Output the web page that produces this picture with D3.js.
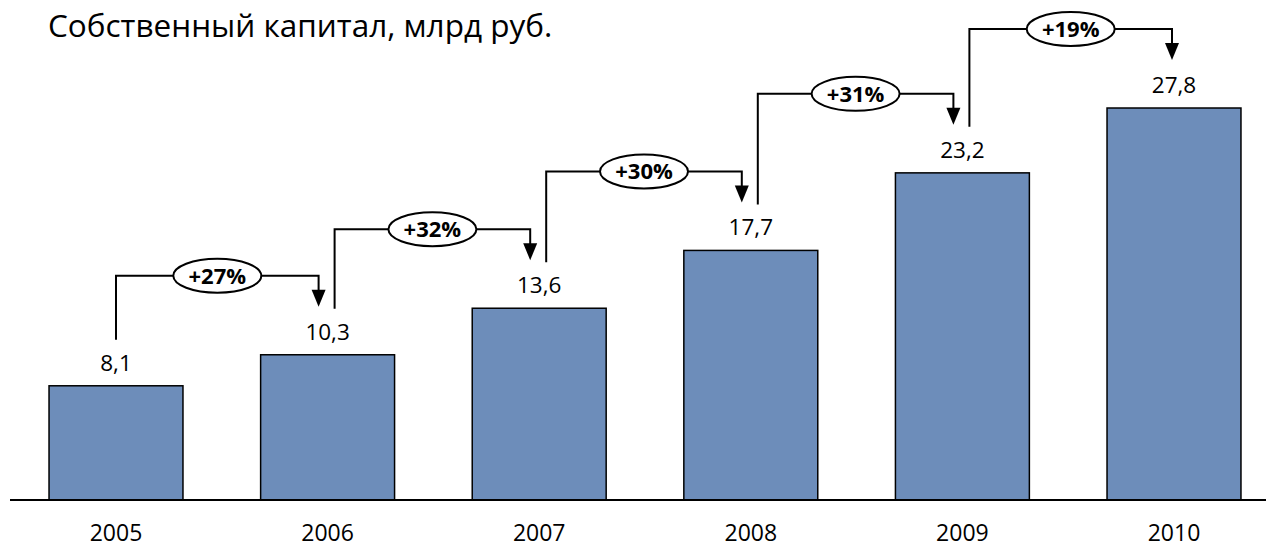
<!DOCTYPE html>
<html>
<head>
<meta charset="utf-8">
<script src="https://cdn.jsdelivr.net/npm/d3@7"></script>
<style>
  body { margin: 0; background: #fff; }
  text { font-family: "Open Sans", "Noto Sans", sans-serif; fill: #000; }
</style>
</head>
<body>
<svg id="chart" width="1266" height="548"></svg>
<script>
// data
const years = ['2005', '2006', '2007', '2008', '2009', '2010']
const equity = [8.1, 10.3, 13.6, 17.7, 23.2, 27.8]
const growth = ['+27%', '+32%', '+30%', '+31%', '+19%']
const title = 'Собственный капитал, млрд руб.'

const width = 1266, height = 548
const baseY = 500

const svg = d3.select('#chart')

const x = d3.scaleBand()
  .domain(years)
  .range([10.2, 1279.8])
  .paddingInner(0.367)
  .paddingOuter(0.1835)

const y = d3.scaleLinear()
  .domain([0, 35.46])
  .range([baseY, 0])

const cx = d => x(d) + x.bandwidth() / 2

// title
svg.append('text')
  .attr('x', 48)
  .attr('y', 37)
  .style('font-size', '31.5px')
  .text(title)

// bars
svg.selectAll('rect.bar')
  .data(years)
  .enter()
  .append('rect')
  .attr('class', 'bar')
  .attr('x', d => x(d))
  .attr('y', (d, i) => y(equity[i]))
  .attr('width', x.bandwidth())
  .attr('height', (d, i) => baseY - y(equity[i]))
  .attr('fill', '#6d8dba')
  .attr('stroke', '#000')
  .attr('stroke-width', 1.5)

// category axis (labels only, baseline drawn separately)
const xAxis = d3.axisBottom(x).tickSize(0).tickPadding(0)
const gx = svg.append('g')
  .attr('transform', `translate(0,${baseY})`)
  .call(xAxis)
gx.select('.domain').remove()
gx.selectAll('text')
  .attr('y', 41)
  .attr('dy', null)
  .style('font-size', '23px')
  .style('font-family', '"Open Sans", sans-serif')
  .attr('fill', '#000')

svg.append('line')
  .attr('x1', 10).attr('x2', width)
  .attr('y1', baseY).attr('y2', baseY)
  .attr('stroke', '#000')
  .attr('stroke-width', 2)

// value labels
svg.selectAll('text.val')
  .data(years)
  .enter()
  .append('text')
  .attr('class', 'val')
  .attr('x', d => cx(d))
  .attr('y', (d, i) => y(equity[i]) - 15)
  .attr('text-anchor', 'middle')
  .style('font-size', '22.5px')
  .text((d, i) => String(equity[i]).replace('.', ','))

// growth connectors
const last = years.length - 1
growth.forEach(function (g, i) {
  const from = years[i], to = years[i + 1]
  const x0 = cx(from) + (i > 0 ? 7 : 0)
  const y0 = y(equity[i]) - 46
  const x1 = cx(to) - (i + 1 === last ? 2 : 9)
  const yTop = y(equity[i + 1]) - 79
  const yTip = y(equity[i + 1]) - 48

  svg.append('path')
    .attr('d', `M${x0},${y0} V${yTop} H${x1} V${yTip - 15}`)
    .attr('fill', 'none')
    .attr('stroke', '#000')
    .attr('stroke-width', 2)

  // arrow head
  svg.append('path')
    .attr('d', `M${x1 - 7},${yTip - 17} L${x1 + 7},${yTip - 17} L${x1},${yTip} Z`)
    .attr('fill', '#000')

  const mx = (x0 + x1) / 2
  svg.append('ellipse')
    .attr('cx', mx).attr('cy', yTop)
    .attr('rx', 44).attr('ry', 17)
    .attr('fill', '#fff')
    .attr('stroke', '#000')
    .attr('stroke-width', 2)

  svg.append('text')
    .attr('x', mx).attr('y', yTop + 8)
    .attr('text-anchor', 'middle')
    .style('font-size', '22px')
    .style('font-weight', 'bold')
    .text(g)
})
</script>
</body>
</html>
